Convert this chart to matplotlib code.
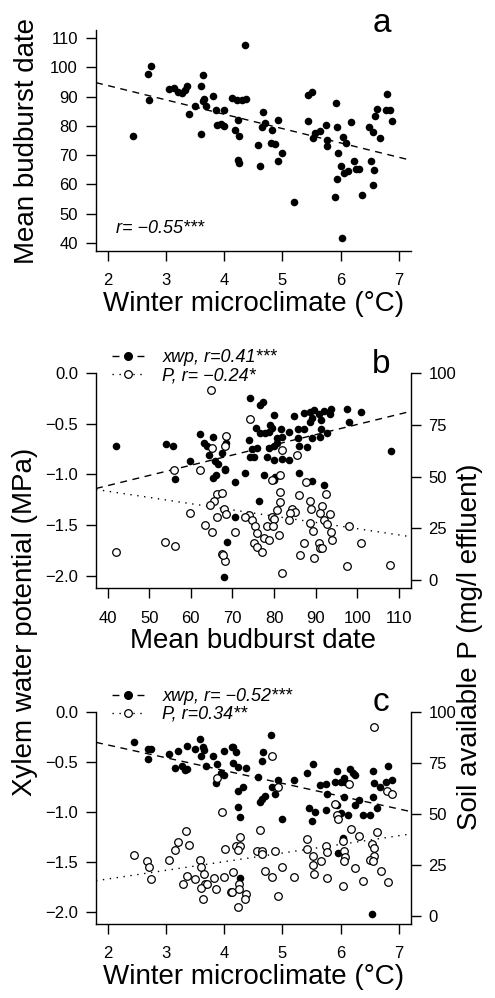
import numpy as np
import matplotlib
matplotlib.use("Agg")
import matplotlib.pyplot as plt
from matplotlib.lines import Line2D

plt.rcParams['font.family'] = ['Liberation Sans', 'DejaVu Sans']

# panel a: winter temperature vs mean budburst date
a_temp = [2.44, 2.69, 2.74, 2.71, 3.06, 3.14, 3.20, 3.27, 3.33, 3.36, 3.39, 3.50, 3.60, 3.61,
          3.64, 3.63, 3.65, 3.69, 3.81, 3.86, 3.87, 3.94, 3.99, 4.00, 4.14, 4.18, 4.22, 4.24,
          4.26, 4.24, 4.25, 4.30, 4.38, 4.35, 4.67, 4.71, 4.65, 4.59, 4.62, 4.82, 4.81, 4.87,
          4.93, 4.99, 4.92, 5.20, 5.44, 5.51, 5.44, 5.56, 5.65, 5.52, 5.75, 5.77, 5.76, 5.92,
          5.93, 5.95, 6.04, 6.09, 6.18, 6.00, 6.06, 6.13, 6.23, 6.27, 6.32, 5.93, 5.91, 6.03,
          6.37, 6.49, 6.55, 6.53, 6.58, 6.56, 6.59, 6.63, 6.68, 6.78, 6.80, 6.85, 6.88]
a_budburst = [76.4, 97.7, 100.5, 88.7, 92.7, 93.0, 91.6, 91.4, 92.4, 93.5, 84.2, 86.9, 77.1, 93.5,
              97.5, 88.6, 89.2, 86.9, 90.3, 85.5, 80.3, 80.5, 79.8, 85.3, 89.5, 78.7, 88.7, 81.9,
              76.4, 68.5, 67.3, 88.9, 89.2, 107.6, 84.6, 81.0, 79.6, 73.6, 66.2, 78.7, 74.2, 73.8,
              82.1, 70.8, 68.1, 53.9, 90.6, 91.7, 81.6, 77.6, 78.1, 75.9, 80.3, 75.1, 73.0, 87.8,
              79.6, 70.8, 76.2, 74.2, 81.2, 66.2, 63.9, 64.5, 67.9, 65.1, 65.3, 61.9, 55.7, 41.8,
              56.2, 79.6, 77.8, 67.9, 64.8, 59.7, 83.5, 85.8, 75.9, 85.3, 91.0, 85.5, 81.8]

# panel b: budburst date vs xylem water potential (filled) and soil P (open)
b_bud_xwp = [41.9, 54.0, 55.8, 56.2, 59.8, 62.1, 63.2, 63.9, 65.3, 64.4, 65.9, 66.5, 65.3, 66.1,
             68.3, 67.5, 68.4, 68.7, 67.9, 74.3, 76.7, 77.3, 79.9, 84.7, 87.1, 88.6, 89.7, 90.7,
             92.1, 93.6, 93.4, 97.6, 100.8, 98.0, 89.2, 91.3, 88.7, 87.1, 91.2, 92.8, 91.0, 89.2,
             85.7, 85.7, 88.0, 85.9, 83.5, 81.7, 81.9, 80.7, 79.1, 79.5, 78.7, 75.7, 76.7, 77.9,
             73.9, 75.9, 78.9, 80.1, 80.7, 74.3, 74.7, 75.1, 78.3, 79.9, 81.9, 83.5, 73.1, 77.7,
             79.9, 80.3, 85.9, 89.2, 92.0, 70.7, 68.3, 76.3, 70.7, 108.0]
b_xwp = [-0.715, -0.699, -0.715, -1.045, -0.863, -0.603, -0.685, -0.718, -0.626, -0.807, -0.863,
         -0.896, -1.038, -1.005, -0.949, -0.791, -0.692, -1.664, -2.016, -0.247, -0.313, -0.287,
         -0.412, -0.422, -0.389, -0.379, -0.363, -0.405, -0.369, -0.356, -0.405, -0.356, -0.379,
         -0.478, -0.445, -0.461, -0.478, -0.553, -0.553, -0.593, -0.626, -0.642, -0.553, -0.642,
         -0.725, -0.718, -0.577, -0.553, -0.626, -0.642, -0.511, -0.543, -0.577, -0.543, -0.593,
         -0.593, -0.659, -0.741, -0.741, -0.718, -0.686, -0.824, -0.751, -0.824, -0.824, -0.857,
         -0.850, -0.857, -0.988, -1.005, -1.054, -1.022, -0.982, -1.064, -1.104, -1.077, -0.956,
         -1.262, -1.417, -0.765]
b_bud_p = [64.8, 56.0, 62.1, 66.4, 65.6, 64.5, 59.8, 68.3, 65.1, 67.9, 68.5, 66.3, 63.4, 65.2,
           53.8, 56.2, 41.9, 67.5, 68.3, 74.3, 68.5, 81.9, 85.5, 81.5, 79.5, 87.8, 81.4, 85.9,
           92.6, 81.5, 88.7, 88.9, 91.6, 80.6, 84.3, 85.1, 83.9, 91.0, 93.4, 79.5, 79.9, 73.9,
           73.1, 74.7, 83.5, 91.9, 98.0, 75.5, 78.3, 79.8, 88.6, 92.8, 70.7, 75.9, 81.1, 77.5,
           78.9, 89.4, 93.6, 94.0, 75.1, 75.9, 77.1, 87.1, 90.7, 91.0, 91.6, 86.3, 89.5, 100.8,
           67.7, 81.9, 97.6, 107.9, 67.4]
b_p = [91.7, 53.4, 53.1, 41.7, 38.0, 36.1, 32.4, 64.7, 63.9, 34.3, 31.9, 30.7, 26.4, 23.1,
       18.6, 16.7, 13.7, 12.5, 9.4, 77.7, 69.6, 63.1, 60.7, 51.0, 48.5, 47.4, 42.4, 40.9,
       41.7, 37.5, 38.0, 34.3, 35.9, 34.0, 34.3, 32.7, 32.4, 32.4, 32.0, 30.7, 29.5, 31.6,
       30.7, 29.1, 29.1, 29.1, 25.9, 25.9, 25.9, 26.2, 27.5, 27.2, 23.4, 22.7, 21.8, 20.2,
       19.4, 23.9, 23.4, 19.4, 17.8, 15.9, 13.7, 17.8, 17.8, 15.4, 15.4, 12.1, 10.5, 17.8,
       12.1, 3.2, 6.9, 7.3, 42.1]

# panel c: winter temperature vs xylem water potential (filled) and soil P (open)
c_temp_xwp = [2.45, 2.70, 2.74, 2.69, 3.06, 3.20, 3.16, 3.27, 3.33, 3.37, 3.36, 3.50, 3.59, 3.63,
              3.66, 3.61, 3.69, 3.81, 3.87, 3.86, 3.99, 4.00, 3.94, 4.13, 4.15, 4.20, 4.16, 4.24,
              4.38, 4.32, 4.24, 4.24, 4.27, 4.27, 4.81, 4.67, 4.65, 4.59, 4.82, 4.70, 4.65, 4.62,
              4.87, 4.93, 4.99, 5.20, 5.53, 5.43, 5.45, 5.56, 5.51, 5.65, 5.75, 5.76, 5.93, 5.91,
              6.05, 6.00, 6.08, 6.16, 6.22, 6.25, 6.06, 5.75, 5.93, 6.00, 6.13, 6.25, 6.32, 6.38,
              6.50, 6.56, 6.58, 6.56, 6.63, 6.68, 6.78, 6.82, 6.88, 6.54, 5.96, 6.04]
c_xwp = [-0.304, -0.378, -0.378, -0.475, -0.425, -0.394, -0.568, -0.545, -0.585, -0.575, -0.344,
         -0.378, -0.277, -0.351, -0.385, -0.445, -0.545, -0.445, -0.525, -0.712, -0.391, -0.635,
         -0.618, -0.357, -0.351, -0.401, -0.518, -0.552, -0.568, -0.753, -0.793, -0.953, -1.054,
         -1.666, -0.234, -0.401, -0.495, -0.652, -0.753, -0.846, -0.869, -0.903, -0.826, -0.685,
         -1.070, -0.685, -0.525, -0.618, -0.960, -1.004, -1.094, -0.736, -0.719, -0.826, -0.592,
         -0.702, -0.659, -0.702, -0.702, -0.578, -0.612, -0.635, -0.853, -0.980, -0.936, -1.013,
         -1.037, -0.936, -0.880, -1.037, -1.037, -0.592, -0.712, -0.853, -0.960, -0.753, -0.702,
         -0.545, -0.679, -2.026, -1.415, -1.261]
c_temp_p = [2.45, 2.68, 2.71, 2.74, 3.06, 3.16, 3.20, 3.35, 3.39, 3.36, 3.29, 3.50, 3.59, 3.61,
            3.65, 3.67, 3.60, 3.64, 3.70, 3.83, 3.86, 3.99, 4.02, 3.97, 3.87, 4.11, 4.82, 6.58,
            4.93, 6.79, 6.88, 5.91, 5.93, 5.95, 6.15, 4.62, 4.27, 4.21, 4.27, 4.24, 4.57, 4.65,
            4.65, 4.87, 5.43, 5.43, 5.53, 5.75, 5.76, 5.66, 5.52, 5.54, 5.76, 6.04, 6.06, 6.08,
            6.05, 6.18, 6.32, 6.25, 6.38, 6.04, 6.54, 6.57, 6.58, 6.50, 6.56, 6.63, 6.69, 6.82,
            4.16, 4.13, 4.25, 4.26, 4.38, 4.35, 4.24, 4.70, 4.82, 4.99, 5.20, 4.92]
c_p = [30.0, 26.7, 23.8, 18.1, 27.5, 32.4, 36.3, 41.6, 34.7, 19.7, 15.7, 18.1, 27.5, 23.8,
       20.6, 15.7, 13.6, 8.1, 15.4, 18.5, 12.9, 19.0, 32.7, 50.9, 67.6, 11.7, 78.1, 92.4,
       63.2, 61.1, 59.5, 54.6, 49.3, 47.3, 64.8, 42.0, 38.4, 34.3, 34.3, 32.4, 31.9, 31.9,
       30.3, 31.9, 37.6, 32.7, 29.5, 34.0, 31.1, 27.0, 24.9, 20.6, 18.5, 36.8, 31.9, 28.7,
       27.0, 42.5, 38.9, 23.5, 17.3, 14.4, 35.2, 33.1, 29.5, 27.5, 27.0, 41.1, 22.2, 16.5,
       21.4, 11.7, 15.7, 13.3, 10.8, 8.1, 4.4, 22.2, 19.0, 23.8, 19.0, 9.7]

W, H = 495, 998
fig = plt.figure(figsize=(W / 100, H / 100), dpi=100)


def px_axes(left, top, right, bottom):
    return fig.add_axes([left / W, 1 - bottom / H, (right - left) / W, (bottom - top) / H])


def style_axis(ax):
    for s in ('top', 'right'):
        ax.spines[s].set_visible(False)
    for s in ax.spines.values():
        s.set_linewidth(1.0)
    ax.tick_params(direction='out', length=7, width=1.0, labelsize=12, pad=6)
    ax.tick_params(axis='x', pad=9)


def fit_line(ax, x, y, xlim, **kw):
    k, b = np.polyfit(x, y, 1)
    xs = np.array(xlim)
    ax.plot(xs, k * xs + b, color='k', lw=1.0, **kw)


DASH = (0, (5, 4))
DOT = (0, (1, 4))
MS = 30
LAB = 20
XL_T = (1.8, 7.2)
XL_B = (37.2, 112.8)
YL_X = (-2.125, 0.082)
YL_P = (-4, 104)
ylab = ['\u22122.0', '\u22121.5', '\u22121.0', '\u22120.5', '0.0']

# ---- panel a
ax = px_axes(96, 30, 410.5, 251)
style_axis(ax)
ax.scatter(a_temp, a_budburst, s=MS, color='k', lw=0, zorder=3)
fit_line(ax, a_temp, a_budburst, XL_T, ls=DASH)
ax.set_xlim(*XL_T)
ax.set_ylim(37.2, 112.8)
ax.set_xticks(range(2, 8))
ax.set_yticks(range(40, 111, 10))
ax.set_xlabel('Winter microclimate (\u00b0C)', fontsize=LAB, labelpad=2)
ax.set_ylabel('Mean budburst date', fontsize=LAB, labelpad=7)
ax.text(0.065, 0.08, 'r= \u22120.55***', style='italic', fontsize=13, transform=ax.transAxes)
ax.text(0.91, 0.99, 'a', fontsize=24, ha='center', va='baseline', transform=ax.transAxes)


def two_axis_panel(top, bottom, x1, y1, x2, y2, xlim, xticks, letter, lab1, lab2, xlabel):
    ax = px_axes(96, top, 410.5, bottom)
    style_axis(ax)
    ax.spines['left'].set_bounds(YL_X[0], 0)
    ax.scatter(x1, y1, s=MS, color='k', lw=0, zorder=3)
    fit_line(ax, x1, y1, xlim, ls=DASH)
    ax.set_xlim(*xlim)
    ax.set_ylim(*YL_X)
    ax.set_xticks(xticks)
    ax.set_yticks([-2, -1.5, -1, -0.5, 0])
    ax.set_yticklabels(ylab)
    ax.set_xlabel(xlabel, fontsize=LAB, labelpad=2)

    ax2 = ax.twinx()
    for s in ('top', 'left', 'bottom'):
        ax2.spines[s].set_visible(False)
    ax2.spines['right'].set_linewidth(1.0)
    ax2.spines['right'].set_bounds(YL_P[0], 100)
    ax2.tick_params(direction='out', length=7, width=1.0, labelsize=12, pad=6)
    ax2.scatter(x2, y2, s=MS, facecolor='white', edgecolor='k', lw=0.9, zorder=3)
    fit_line(ax2, x2, y2, xlim, ls=DOT)
    ax2.set_ylim(*YL_P)
    ax2.set_yticks([0, 25, 50, 75, 100])

    handles = [Line2D([], [], color='k', ls=DASH, lw=1.0, marker='o', ms=5.5),
               Line2D([], [], color='k', ls=DOT, lw=1.0, marker='o', ms=5.5,
                      markerfacecolor='white', markeredgewidth=0.9)]
    leg = ax2.legend(handles, [lab1, lab2], loc='upper left', bbox_to_anchor=(0.05, 1.07),
                     frameon=False, numpoints=1, handlelength=1.8, handletextpad=1.0,
                     labelspacing=0.05, borderpad=0, borderaxespad=0,
                     prop={'style': 'italic', 'size': 13})
    leg.set_clip_on(False)
    ax2.text(0.905, 0.965, letter, fontsize=24, ha='center', va='baseline',
             transform=ax2.transAxes)
    return ax, ax2


two_axis_panel(365, 588.3, b_bud_xwp, b_xwp, b_bud_p, b_p, XL_B, range(40, 111, 10), 'b',
               'xwp, r=0.41***', 'P, r= \u22120.24*', 'Mean budburst date')
two_axis_panel(703.5, 924, c_temp_xwp, c_xwp, c_temp_p, c_p, XL_T, range(2, 8), 'c',
               'xwp, r= \u22120.52***', 'P, r=0.34**', 'Winter microclimate (\u00b0C)')

fig.text(25 / W, 1 - 622 / H, 'Xylem water potential (MPa)', rotation=90, fontsize=LAB,
         ha='center', va='center')
fig.text(470 / W, 1 - 647 / H, 'Soil available P (mg/l effluent)', rotation=90, fontsize=LAB,
         ha='center', va='center')

fig.savefig('out.png', dpi=100)
